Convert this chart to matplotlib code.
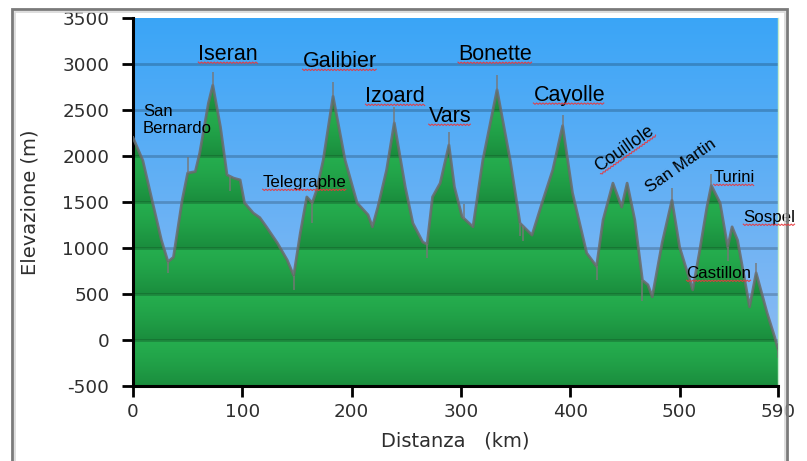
import numpy as np
import matplotlib.pyplot as plt
from matplotlib.lines import Line2D
from matplotlib.patches import Rectangle
from matplotlib.colors import to_rgb
import matplotlib.transforms as mtransforms

plt.rcParams['axes.unicode_minus'] = False

# profilo altimetrico: distanza (km) e quota (m)
km = [0, 9, 18, 26, 32, 37, 45, 50, 57, 61, 69, 73, 80, 86, 92, 98, 102, 110, 116,
      122, 132, 141, 147, 153, 159, 164, 168, 174, 183, 194, 205, 215, 219, 224, 232,
      239, 249, 256, 265, 269, 274, 281, 289, 294, 301, 311, 320, 333, 345, 354, 365,
      375, 384, 393, 402, 415, 424, 430, 439, 447, 452, 459, 466, 471, 475, 484, 493,
      500, 512, 518, 525, 529, 537, 544, 548, 553, 564, 570, 580, 587, 590]
quota = [2200, 1950, 1490, 1085, 850, 900, 1520, 1815, 1830, 2030, 2575, 2770, 2315,
         1795, 1760, 1740, 1490, 1380, 1330, 1230, 1055, 870, 700, 1160, 1555, 1490,
         1630, 1955, 2650, 1955, 1490, 1360, 1230, 1445, 1850, 2360, 1665, 1270, 1065,
         1040, 1555, 1705, 2120, 1665, 1340, 1230, 1955, 2720, 1955, 1270, 1140, 1520,
         1850, 2330, 1600, 945, 800, 1305, 1705, 1445, 1705, 1305, 650, 600, 470, 1055,
         1520, 1010, 545, 945, 1445, 1680, 1490, 1010, 1230, 1085, 360, 730, 295, 30, -100]

# picchi / avvallamenti sottili del tracciato GPS
spike_km = [32, 50, 73, 89, 147, 164, 183, 239, 269, 289, 303, 333, 354, 357, 393,
            424, 466, 493, 529, 544, 570, 590]
spike_quota = [730, 1990, 2910, 1620, 545, 1270, 2800, 2530, 890, 2260, 1480, 2880,
               1130, 1080, 2450, 650, 420, 1650, 1800, 860, 840, -200]

# nomi dei colli
passi = ['San\nBernardo', 'Iseran', 'Telegraphe', 'Galibier', 'Izoard', 'Vars',
         'Bonette', 'Cayolle', 'Couillole', 'San Martin', 'Turini', 'Castillon', 'Sospel']
passi_km = [9, 87, 157, 189, 240, 290, 331, 399, 452, 504, 550, 536, 582]
passi_quota = [2565, 3045, 1663, 2967, 2587, 2370, 3044, 2600, 2040, 1848, 1717, 674, 1283]
passi_size = [12, 15.5, 12.2, 15.5, 15.5, 15.5, 15.5, 15.5, 12.8, 12.2, 12, 12.2, 12.2]
passi_rot = [0, 0, 0, 0, 0, 0, 0, 0, 35, 35, 0, 0, 0]
passi_sottolineato = [False, True, True, True, True, True, True, True, True, False,
                      True, True, True]

x_ticks = [0, 100, 200, 300, 400, 500, 590]
y_ticks = list(range(-500, 3501, 500))

fig = plt.figure(figsize=(8.07, 4.61), dpi=100)
ax = fig.add_axes([133 / 807, 1 - 386 / 461, 645 / 807, 368 / 461])

# sfondo azzurro sfumato
ys = np.linspace(-500, 3500, 800)
top = np.array(to_rgb('#3aa5f7'))
bot = np.array(to_rgb('#94bdf2'))
t = (ys + 500) / 4000
blue = bot + (top - bot) * t[:, None]
ax.imshow(blue[:, None, :], extent=[0, 590, -500, 3500], origin='lower',
          aspect='auto', zorder=0, interpolation='bilinear')

# riempimento verde a bande
frac = ((3500 - ys) % 500) / 500
light = np.array(to_rgb('#25ad4e'))
dark = np.array(to_rgb('#1a8c3d'))
green = light + (dark - light) * (frac[:, None] ** 1.4)
im2 = ax.imshow(green[:, None, :], extent=[0, 590, -500, 3500], origin='lower',
                aspect='auto', zorder=1, interpolation='bilinear')
poly, = ax.fill(np.r_[0, km, 590], np.r_[-500, quota, -500],
                facecolor='none', edgecolor='none', zorder=1)
im2.set_clip_path(poly)

# griglia
for v in range(0, 3500, 500):
    ax.axhline(v, color='black', alpha=0.2, lw=2, zorder=2)

# contorno
ax.plot(km, quota, color='#6a6a6a', lw=2, alpha=0.85, zorder=3)
base = np.interp(spike_km, km, quota)
ax.vlines(spike_km, base, spike_quota, color='#777777', lw=1.3, alpha=0.8, zorder=3)

ax.set_xlim(0, 590)
ax.set_ylim(-500, 3500)
ax.set_xticks(x_ticks)
ax.set_yticks(y_ticks)
ax.tick_params(direction='out', length=8, width=2, colors='black',
               labelcolor='#2e2e2e', labelsize=13.2)
ax.tick_params(axis='y', pad=9)
ax.tick_params(axis='x', pad=4)
for lab in ax.get_xticklabels() + ax.get_yticklabels():
    lab.set_family('DejaVu Sans')

ax.spines['top'].set_visible(False)
ax.spines['right'].set_color('#c4ecca')
ax.spines['right'].set_linewidth(1)
ax.spines['left'].set_linewidth(2.2)
ax.spines['bottom'].set_linewidth(2.2)

fig.text(30 / 807, 1 - 202 / 461, 'Elevazione (m)', rotation=90, ha='center',
         va='center', fontsize=14, color='#2e2e2e')
fig.text(455 / 807, 1 - 441 / 461, 'Distanza   (km)', ha='center', va='center',
         fontsize=14, color='#2e2e2e')

testi = []
for i in range(len(passi)):
    if i == 0:
        tt = ax.text(passi_km[i], passi_quota[i], passi[i], fontsize=passi_size[i],
                     family='Liberation Sans', ha='left', va='top', zorder=5,
                     linespacing=1.15)
    else:
        tt = ax.text(passi_km[i], passi_quota[i], passi[i], fontsize=passi_size[i],
                     family='Liberation Sans', ha='center', va='baseline',
                     rotation=passi_rot[i], rotation_mode='anchor', zorder=5,
                     clip_on=False)
    testi.append(tt)

# sottolineatura ondulata rossa (correttore ortografico)
renderer = fig.canvas.get_renderer()
for tt, flag in zip(testi, passi_sottolineato):
    if not flag:
        continue
    w, h, d = renderer.get_text_width_height_descent(tt.get_text(),
                                                     tt.get_fontproperties(),
                                                     ismath=False)
    x0, y0 = ax.transData.transform(tt.get_position())
    ang = np.deg2rad(tt.get_rotation())
    ux, uy = np.cos(ang), np.sin(ang)
    nx, ny = uy, -ux
    s = np.arange(-w / 2, w / 2 + 0.1, 1.6)
    off = 2.2 + np.where(np.arange(len(s)) % 2 == 0, 0, 1.3)
    xs = x0 + s * ux + off * nx
    yy = y0 + s * uy + off * ny
    fig.add_artist(Line2D(xs, yy, transform=mtransforms.IdentityTransform(),
                          color='#e8383d', lw=0.8, alpha=0.9))

# cornice
fig.add_artist(Rectangle((12, -10), 775, 462, transform=mtransforms.IdentityTransform(),
                         fill=False, edgecolor='#7a7a7a', lw=2))
fig.add_artist(Rectangle((14.5, -10), 770, 459.5, transform=mtransforms.IdentityTransform(),
                         fill=False, edgecolor='#d8d8d8', lw=1.2))

fig.savefig('out.png', dpi=100)
